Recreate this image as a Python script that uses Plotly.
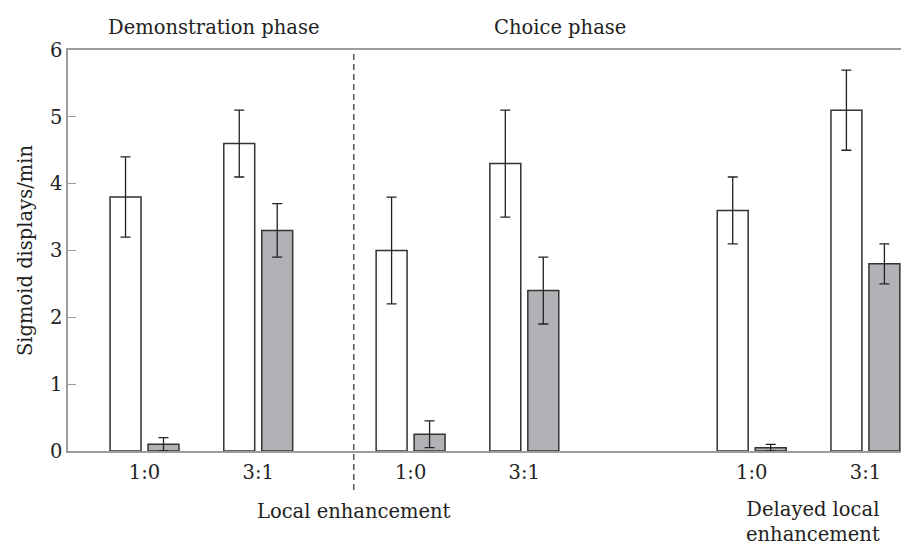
import plotly.graph_objects as go

# ---- data ----
group_labels = ["1:0", "3:1", "1:0", "3:1", "1:0", "3:1"]
white_vals = [3.8, 4.6, 3.0, 4.3, 3.6, 5.1]
white_err = [0.6, 0.5, 0.8, 0.8, 0.5, 0.6]
gray_vals = [0.1, 3.3, 0.25, 2.4, 0.05, 2.8]
gray_err = [0.1, 0.4, 0.2, 0.5, 0.05, 0.3]
y_ticks = [0, 1, 2, 3, 4, 5, 6]

# ---- layout helpers ----
group_pos = [0, 1, 2.34, 3.34, 5.34, 6.34]
divider_x = 1.84
FONT = "DejaVu Serif"
FS = 19.5
AXIS_COL = "#9c9c9c"
EDGE = "#333333"

fig = go.Figure()
fig.add_trace(go.Bar(
    x=group_pos, y=white_vals, width=0.272, offset=-0.303,
    marker=dict(color="white", line=dict(color=EDGE, width=1.5)),
    error_y=dict(type="data", array=white_err, color="#222222", thickness=1.3, width=5),
    showlegend=False,
))
fig.add_trace(go.Bar(
    x=group_pos, y=gray_vals, width=0.272, offset=0.031,
    marker=dict(color="#b1b2b6", line=dict(color=EDGE, width=1.5)),
    error_y=dict(type="data", array=gray_err, color="#222222", thickness=1.3, width=5),
    showlegend=False,
))

fig.add_shape(type="line", xref="x", yref="paper", x0=divider_x, x1=divider_x,
              y0=-0.097, y1=1.0, line=dict(color="#555555", width=1.5, dash="6px,4px"))

ann_font = dict(family=FONT, size=FS, color="#222222")
fig.add_annotation(text="Demonstration phase", xref="paper", yref="paper", x=0.1747, y=1.057,
                   showarrow=False, xanchor="center", yanchor="middle", font=ann_font)
fig.add_annotation(text="Choice phase", xref="paper", yref="paper", x=0.591, y=1.057,
                   showarrow=False, xanchor="center", yanchor="middle", font=ann_font)
fig.add_annotation(text="Local enhancement", xref="paper", yref="paper", x=0.3433, y=-0.150,
                   showarrow=False, xanchor="center", yanchor="middle", font=ann_font)
fig.add_annotation(text="Delayed local<br>enhancement", xref="paper", yref="paper", x=0.894, y=-0.178,
                   showarrow=False, xanchor="center", yanchor="middle", align="center", font=ann_font)

fig.update_layout(
    width=901, height=545,
    margin=dict(l=68, r=0, t=50, b=94),
    barmode="overlay",
    plot_bgcolor="white", paper_bgcolor="white",
    font=dict(family=FONT, size=FS, color="#222222"),
    xaxis=dict(range=[-0.673, 6.653], tickvals=group_pos, ticktext=group_labels,
               showline=True, mirror=True, linecolor=AXIS_COL, linewidth=1.5,
               ticks="", ticklabelstandoff=3, showgrid=False, zeroline=False, fixedrange=True),
    yaxis=dict(range=[0, 6], tickvals=y_ticks, ticks="inside", ticklen=8,
               tickcolor=AXIS_COL, tickwidth=1.3,
               showline=True, linecolor=AXIS_COL, linewidth=1.5,
               showgrid=False, zeroline=False,
               title=dict(text="Sigmoid displays/min", standoff=12,
                          font=dict(family=FONT, size=FS, color="#222222"))),
)

fig.write_html("out.html")
